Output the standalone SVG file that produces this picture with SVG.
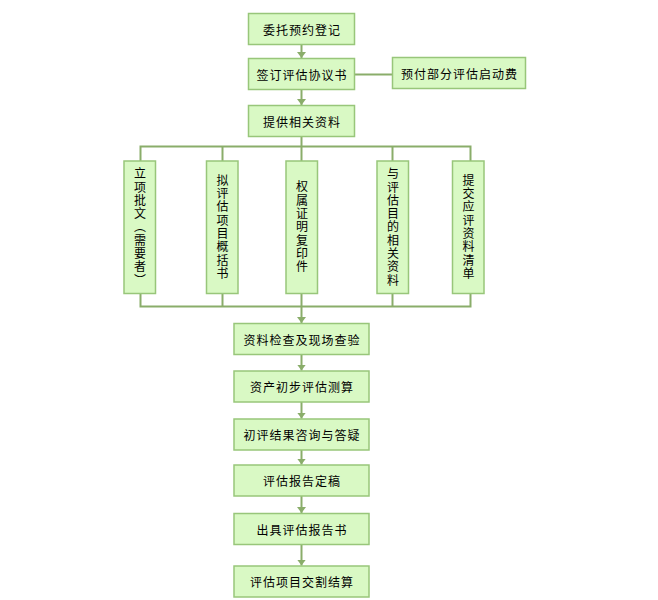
<svg xmlns="http://www.w3.org/2000/svg" width="658" height="600" viewBox="0 0 658 600">
<style>
.box{fill:#d9f9c4;stroke:#98c67a;stroke-width:1.5}
.lbl{font-family:"Noto Sans CJK SC","Noto Sans CJK TC",sans-serif;font-size:12px;fill:#000;text-anchor:middle;dominant-baseline:central;letter-spacing:1px}
.vl{font-family:"Noto Sans CJK SC","Noto Sans CJK TC",sans-serif;font-size:12px;fill:#000;text-anchor:middle;writing-mode:vertical-rl;letter-spacing:1.3px}
.ln{fill:none;stroke:#8aad6a;stroke-width:2}
</style>
<defs>
<marker id="arr" markerUnits="userSpaceOnUse" viewBox="0 0 6 9" refX="6" refY="4.5" markerWidth="6" markerHeight="9" orient="auto">
<path d="M0,0 L6,4.5 L0,9 z" fill="#8aad6a"/>
</marker>
</defs>
<rect width="658" height="600" fill="#fff"/>
<g id="connectors">
<line class="ln" x1="301.5" y1="44.5" x2="301.5" y2="58" marker-end="url(#arr)"/>
<line class="ln" x1="301.5" y1="89.5" x2="301.5" y2="105" marker-end="url(#arr)"/>
<line class="ln" x1="354.5" y1="74.5" x2="392.5" y2="74.5"/>
<line class="ln" x1="301.5" y1="136.5" x2="301.5" y2="146.5"/>
<path class="ln" d="M140.5,161 V146.5 H470.5 V161"/>
<line class="ln" x1="222.5" y1="146.5" x2="222.5" y2="161"/>
<line class="ln" x1="301.5" y1="146.5" x2="301.5" y2="161"/>
<line class="ln" x1="392.5" y1="146.5" x2="392.5" y2="161"/>
<path class="ln" d="M140.5,293.5 V306.5 H470.5 V293.5"/>
<line class="ln" x1="222.5" y1="293.5" x2="222.5" y2="306.5"/>
<line class="ln" x1="301.5" y1="293.5" x2="301.5" y2="306.5"/>
<line class="ln" x1="392.5" y1="293.5" x2="392.5" y2="306.5"/>
<line class="ln" x1="301.5" y1="306.5" x2="301.5" y2="323" marker-end="url(#arr)"/>
<line class="ln" x1="301.5" y1="354.5" x2="301.5" y2="370.5" marker-end="url(#arr)"/>
<line class="ln" x1="301.5" y1="402" x2="301.5" y2="418.5" marker-end="url(#arr)"/>
<line class="ln" x1="301.5" y1="450" x2="301.5" y2="464.5" marker-end="url(#arr)"/>
<line class="ln" x1="301.5" y1="496" x2="301.5" y2="513" marker-end="url(#arr)"/>
<line class="ln" x1="301.5" y1="544.5" x2="301.5" y2="565.5" marker-end="url(#arr)"/>
</g>
<g id="n1"><rect class="box" x="248.5" y="13.5" width="106" height="31"/><text class="lbl" x="302" y="29">委托预约登记</text></g>
<g id="n2"><rect class="box" x="248.5" y="58.5" width="106" height="31"/><text class="lbl" x="302" y="74">签订评估协议书</text></g>
<g id="n2b"><rect class="box" x="392.5" y="57.5" width="133" height="31"/><text class="lbl" x="459.5" y="73">预付部分评估启动费</text></g>
<g id="n3"><rect class="box" x="248.5" y="105.5" width="106" height="31"/><text class="lbl" x="302" y="121">提供相关资料</text></g>
<g id="v1"><rect class="box" x="124" y="161" width="31.5" height="132.5"/><text class="vl" x="140" y="227.5">立项批文（需要者）</text></g>
<g id="v2"><rect class="box" x="206.5" y="161" width="31.5" height="132.5"/><text class="vl" x="222.5" y="227.5">拟评估项目概括书</text></g>
<g id="v3"><rect class="box" x="286" y="161" width="31.5" height="132.5"/><text class="vl" x="302" y="227.5">权属证明复印件</text></g>
<g id="v4"><rect class="box" x="377" y="161" width="31.5" height="132.5"/><text class="vl" x="393" y="227.5">与评估目的相关资料</text></g>
<g id="v5"><rect class="box" x="452.5" y="161" width="31.5" height="132.5"/><text class="vl" x="468.5" y="227.5">提交应评资料清单</text></g>
<g id="n4"><rect class="box" x="234" y="323.5" width="135" height="31"/><text class="lbl" x="302" y="339">资料检查及现场查验</text></g>
<g id="n5"><rect class="box" x="234" y="371" width="135" height="31"/><text class="lbl" x="302" y="386.5">资产初步评估测算</text></g>
<g id="n6"><rect class="box" x="234" y="419" width="135" height="31"/><text class="lbl" x="302" y="434.5">初评结果咨询与答疑</text></g>
<g id="n7"><rect class="box" x="234" y="465" width="135" height="31"/><text class="lbl" x="302" y="480.5">评估报告定稿</text></g>
<g id="n8"><rect class="box" x="234" y="513.5" width="135" height="31"/><text class="lbl" x="302" y="529">出具评估报告书</text></g>
<g id="n9"><rect class="box" x="234" y="566" width="135" height="31"/><text class="lbl" x="302" y="581.5">评估项目交割结算</text></g>
</svg>
